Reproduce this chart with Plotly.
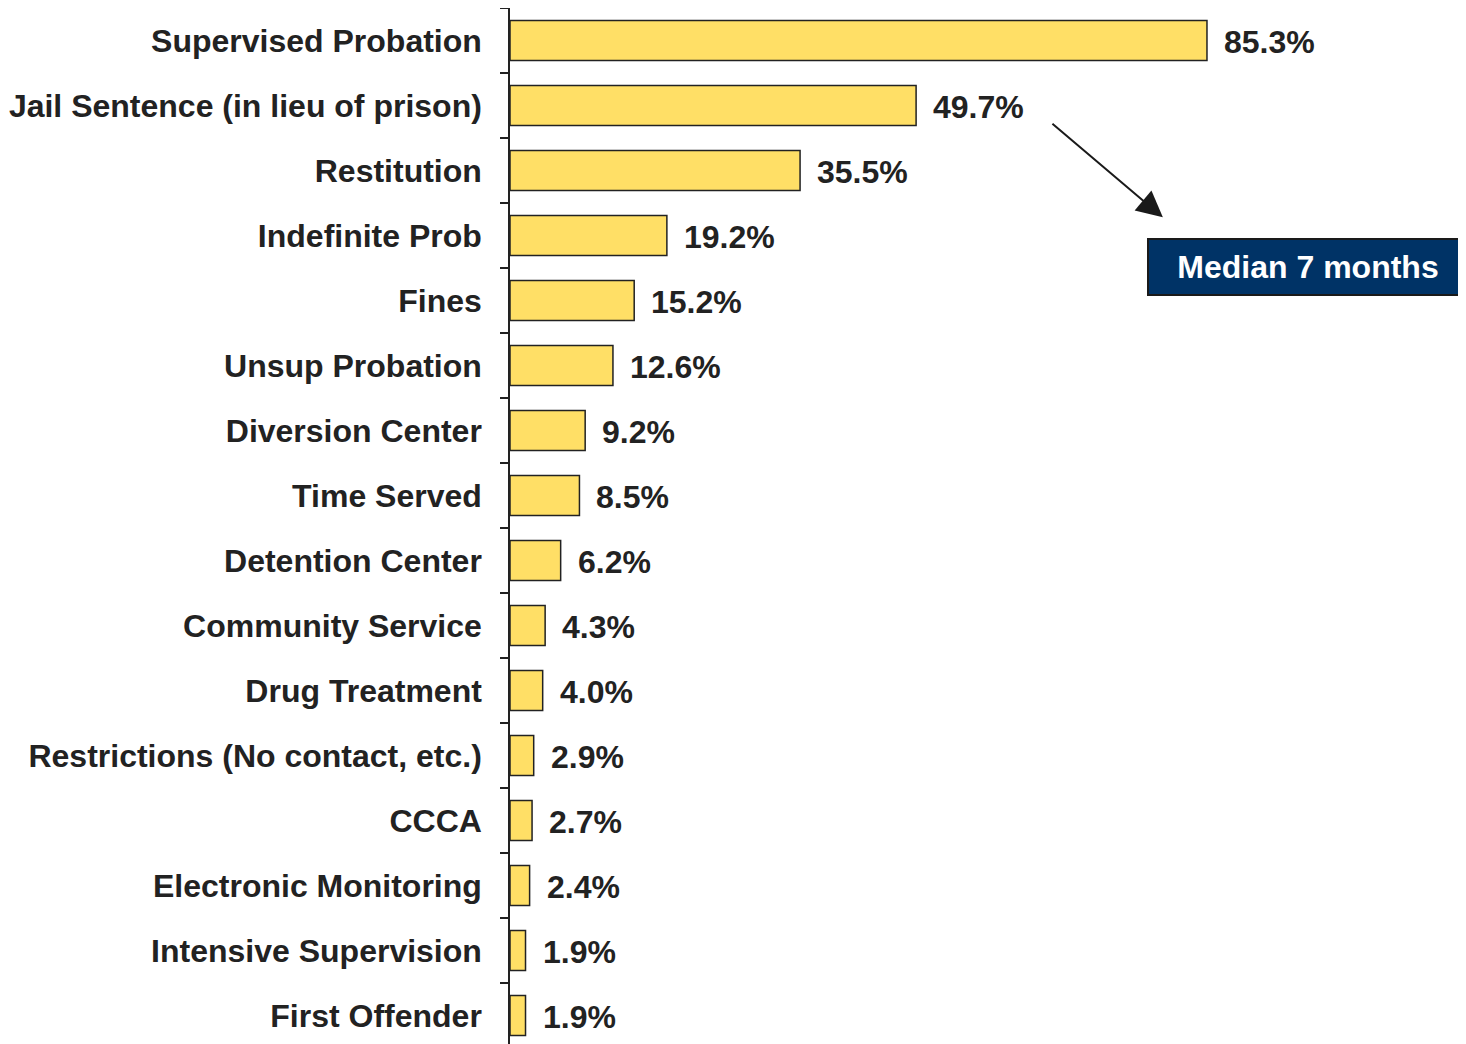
import plotly.graph_objects as go

# categories top to bottom and their shares (%)
categories = [
    "Supervised Probation", "Jail Sentence (in lieu of prison)", "Restitution",
    "Indefinite Prob", "Fines", "Unsup Probation", "Diversion Center",
    "Time Served", "Detention Center", "Community Service", "Drug Treatment",
    "Restrictions (No contact, etc.)", "CCCA", "Electronic Monitoring",
    "Intensive Supervision", "First Offender",
]
values = [85.3, 49.7, 35.5, 19.2, 15.2, 12.6, 9.2, 8.5, 6.2, 4.3, 4.0, 2.9, 2.7, 2.4, 1.9, 1.9]
value_labels = ["{:.1f}%".format(v) for v in values]

note_text = "Median 7 months"

FONT = "Arial, Liberation Sans, sans-serif"
TXT = "#222222"

fig = go.Figure()

fig.add_trace(go.Bar(
    x=values,
    y=categories,
    orientation="h",
    marker=dict(color="#FFDF66", line=dict(color="#222222", width=1.5)),
    showlegend=False,
    hoverinfo="skip",
))

# value labels to the right of each bar
for cat, v, lab in zip(categories, values, value_labels):
    fig.add_annotation(
        x=v, y=cat, xref="x", yref="y",
        text=lab, showarrow=False,
        xanchor="left", yanchor="middle", xshift=15, yshift=-1,
        font=dict(family=FONT, size=32, color=TXT, weight="bold"),
    )

# arrow from the jail sentence label towards the note box
fig.add_annotation(
    x=79.9, y=2.72, ax=66.2, ay=1.26,
    xref="x", yref="y", axref="x", ayref="y",
    showarrow=True, arrowhead=2, arrowsize=2.6, arrowwidth=2,
    arrowcolor="#1a1a1a", text="",
)

# note box (runs off the right edge)
fig.add_annotation(
    x=77.96, y=3.48, xref="x", yref="y",
    text=note_text, showarrow=False,
    xanchor="left", yanchor="middle", align="center",
    width=318, height=54, borderpad=0, borderwidth=2,
    bgcolor="#003366", bordercolor="#1a1a1a",
    font=dict(family=FONT, size=32, color="white", weight="bold"),
)

# page body adds 8px offset; size the figure to fill the window exactly
fig.update_layout(
    width=1458, height=1036,
    margin=dict(l=502, r=0, t=0, b=0),
    paper_bgcolor="white", plot_bgcolor="white",
    bargap=0.385,
    font=dict(family=FONT, color=TXT),
)

fig.update_xaxes(
    range=[0, 117.0], visible=False, showgrid=False, zeroline=False,
)

fig.update_yaxes(
    type="category",
    categoryorder="array", categoryarray=categories,
    range=[15.438, -0.5],
    showline=True, linecolor="#222222", linewidth=1.5,
    ticks="outside", tickson="boundaries", ticklen=8, tickwidth=1.5, tickcolor="#222222",
    showgrid=False, zeroline=False,
    tickfont=dict(family=FONT, size=32, color=TXT, weight="bold"),
    ticklabelstandoff=20,
)

fig.write_html("out.html")
